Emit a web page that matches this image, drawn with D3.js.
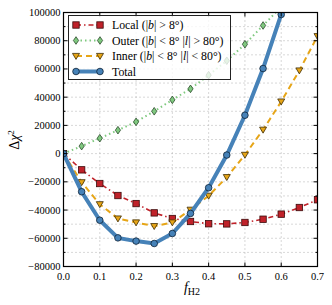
<!DOCTYPE html>
<html>
<head>
<meta charset="utf-8">
<script src="https://cdn.jsdelivr.net/npm/d3@7"></script>
<style>
  body { margin: 0; background: #fff; }
  svg { display: block; font-family: "Liberation Serif", "DejaVu Serif", serif; }
</style>
</head>
<body>
<svg></svg>
<script>
let fH2 = [0, 0.05, 0.1, 0.15, 0.2, 0.25, 0.3, 0.35, 0.4, 0.45, 0.5, 0.55, 0.6, 0.65, 0.7]
let localVals = [0, -11500, -21200, -29700, -35400, -42000, -46000, -48100, -49700, -49800, -48800, -46500, -42900, -38200, -32700]
let outerVals = [0, 5300, 10900, 16600, 22500, 30000, 38100, 45900, 55600, 65800, 77500, 90800, 104000]
let innerVals = [0, -20300, -35900, -46000, -48800, -51400, -48800, -39800, -29900, -16700, -900, 16900, 36900, 58900, 83200]
let totalVals = [0, -27000, -47200, -59700, -62000, -63700, -56600, -42400, -24200, -1000, 27200, 60300, 98600]
let xTicks = [0, 0.1, 0.2, 0.3, 0.4, 0.5, 0.6, 0.7]
let yTicks = [-80000, -60000, -40000, -20000, 0, 20000, 40000, 60000, 80000, 100000]

let width = 332
let height = 305
let plotLeft = 63.5
let plotRight = 317.5
let plotTop = 12.5
let plotBottom = 266.5

let svg = d3.select('svg').attr('width', width).attr('height', height)

let xScale = d3.scaleLinear().domain([0, 0.7]).range([plotLeft, plotRight])
let yScale = d3.scaleLinear().domain([-80000, 100000]).range([plotBottom, plotTop])

let series = [
  { name: 'Local', vals: localVals, color: '#c0222a', edge: '#3a0a0a', dash: '5,3,1.5,3', lw: 1.6, marker: 'square' },
  { name: 'Outer', vals: outerVals, color: '#7fc97f', edge: '#2c4a2c', dash: '1.5,3', lw: 2, marker: 'diamond' },
  { name: 'Inner', vals: innerVals, color: '#e6a517', edge: '#3d2c05', dash: '6,4', lw: 2, marker: 'triangle' },
  { name: 'Total', vals: totalVals, color: '#4682b8', edge: '#0e2236', dash: null, lw: 4, marker: 'circle' }
]

let legendLabels = [
  'Local (|<tspan font-style="italic">b</tspan>| &gt; 8°)',
  'Outer (|<tspan font-style="italic">b</tspan>| &lt; 8° |<tspan font-style="italic">l</tspan>| &gt; 80°)',
  'Inner (|<tspan font-style="italic">b</tspan>| &lt; 8° |<tspan font-style="italic">l</tspan>| &lt; 80°)',
  'Total'
]

// grid
let grid = svg.append('g')
d3.range(-70000, 100000, 10000).forEach(v => {
  grid.append('line')
    .attr('x1', plotLeft).attr('x2', plotRight)
    .attr('y1', yScale(v)).attr('y2', yScale(v))
    .attr('stroke', '#b0b0b0').attr('stroke-width', 1).attr('stroke-dasharray', '1,3')
})
xTicks.slice(1, -1).forEach(v => {
  grid.append('line')
    .attr('x1', xScale(v)).attr('x2', xScale(v))
    .attr('y1', plotTop).attr('y2', plotBottom)
    .attr('stroke', '#b0b0b0').attr('stroke-width', 1).attr('stroke-dasharray', '1,3')
})

svg.append('clipPath').attr('id', 'clip')
  .append('rect').attr('x', plotLeft).attr('y', plotTop).attr('width', plotRight - plotLeft).attr('height', plotBottom - plotTop)

let plot = svg.append('g').attr('clip-path', 'url(#clip)')

let drawMarker = (g, type, x, y, s) => {
  if (type === 'square') {
    g.append('rect').attr('x', x - 3.2).attr('y', y - 3.2).attr('width', 6.4).attr('height', 6.4)
      .attr('fill', s.color).attr('stroke', s.edge).attr('stroke-width', 0.8)
  } else if (type === 'diamond') {
    g.append('path').attr('d', `M${x},${y - 3.8}L${x + 2.6},${y}L${x},${y + 3.8}L${x - 2.6},${y}Z`)
      .attr('fill', s.color).attr('stroke', s.edge).attr('stroke-width', 0.8)
  } else if (type === 'triangle') {
    g.append('path').attr('d', `M${x - 3.5},${y - 2.6}L${x + 3.5},${y - 2.6}L${x},${y + 3.4}Z`)
      .attr('fill', s.color).attr('stroke', s.edge).attr('stroke-width', 0.8)
  } else {
    g.append('circle').attr('cx', x).attr('cy', y).attr('r', 3.3)
      .attr('fill', s.color).attr('stroke', s.edge).attr('stroke-width', 0.8)
  }
}

let line = d3.line().x((d, i) => xScale(fH2[i])).y(d => yScale(d))

series.forEach(s => {
  plot.append('path')
    .attr('d', line(s.vals))
    .attr('fill', 'none')
    .attr('stroke', s.color)
    .attr('stroke-width', s.lw)
    .attr('stroke-dasharray', s.dash)
  let mg = plot.append('g')
  s.vals.forEach((v, i) => drawMarker(mg, s.marker, xScale(fH2[i]), yScale(v), s))
})

// frame and ticks
let axes = svg.append('g')
yTicks.forEach(v => {
  let y = yScale(v)
  axes.append('line').attr('x1', plotLeft).attr('x2', plotLeft + 4).attr('y1', y).attr('y2', y).attr('stroke', '#000')
  axes.append('line').attr('x1', plotRight).attr('x2', plotRight - 4).attr('y1', y).attr('y2', y).attr('stroke', '#000')
  axes.append('text').attr('x', plotLeft - 3).attr('y', y + 3.5)
    .attr('text-anchor', 'end').attr('font-size', 10.5)
    .text(v < 0 ? '\u2212' + Math.abs(v) : v)
})
d3.range(-70000, 100000, 20000).forEach(v => {
  let y = yScale(v)
  axes.append('line').attr('x1', plotLeft).attr('x2', plotLeft + 2).attr('y1', y).attr('y2', y).attr('stroke', '#000')
  axes.append('line').attr('x1', plotRight).attr('x2', plotRight - 2).attr('y1', y).attr('y2', y).attr('stroke', '#000')
})
xTicks.forEach(v => {
  let x = xScale(v)
  axes.append('line').attr('x1', x).attr('x2', x).attr('y1', plotBottom).attr('y2', plotBottom - 4).attr('stroke', '#000')
  axes.append('line').attr('x1', x).attr('x2', x).attr('y1', plotTop).attr('y2', plotTop + 4).attr('stroke', '#000')
  axes.append('text').attr('x', x).attr('y', plotBottom + 13)
    .attr('text-anchor', 'middle').attr('font-size', 10.5)
    .text(v.toFixed(1))
})
axes.append('rect')
  .attr('x', plotLeft).attr('y', plotTop).attr('width', plotRight - plotLeft).attr('height', plotBottom - plotTop)
  .attr('fill', 'none').attr('stroke', '#000').attr('stroke-width', 1.2)

// axis labels
svg.append('text')
  .attr('transform', 'translate(19,140) rotate(-90)')
  .attr('text-anchor', 'middle').attr('font-size', 14)
  .html('Δ<tspan font-style="italic">χ</tspan><tspan font-size="9" dy="-5">2</tspan>')

svg.append('text')
  .attr('x', 192).attr('y', 292)
  .attr('text-anchor', 'middle').attr('font-size', 14)
  .html('<tspan font-style="italic">f</tspan><tspan font-size="10" dy="3">H2</tspan>')

// legend
let legend = svg.append('g')
legend.append('rect')
  .attr('x', 68.5).attr('y', 15.5).attr('width', 162).attr('height', 64)
  .attr('fill', 'rgba(255,255,255,0.8)').attr('stroke', '#222').attr('stroke-width', 1)

series.forEach((s, i) => {
  let y = 25 + i * 15.5
  legend.append('line')
    .attr('x1', 76).attr('x2', 100).attr('y1', y).attr('y2', y)
    .attr('stroke', s.color).attr('stroke-width', s.lw)
    .attr('stroke-dasharray', s.dash)
  drawMarker(legend, s.marker, 76, y, s)
  drawMarker(legend, s.marker, 100, y, s)
  legend.append('text')
    .attr('x', 112).attr('y', y + 4)
    .attr('font-size', 11.8)
    .html(legendLabels[i])
})
</script>
</body>
</html>
